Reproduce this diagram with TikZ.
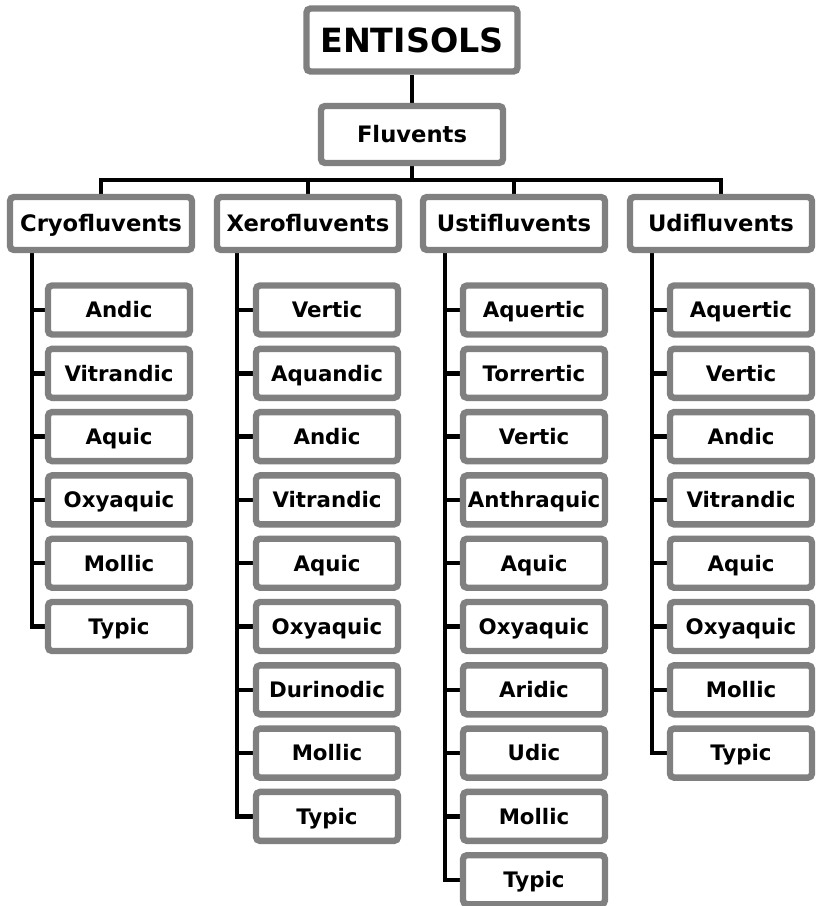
\documentclass[tikz,border=0pt]{standalone}
\usepackage{fontspec}
\setmainfont{DejaVu Sans}
\usetikzlibrary{backgrounds}
\definecolor{boxgray}{RGB}{128,128,128}
\begin{document}
\begin{tikzpicture}[x=0.75pt,y=-0.75pt,
  font=\bfseries\fontsize{16}{19}\selectfont,
  box/.style={draw=boxgray,line width=4.8pt,fill=white,rounded corners=3pt,
    inner sep=0pt,minimum width=106.5pt,minimum height=36.75pt,
    text height=11.7pt,text depth=0pt},
  subbox/.style={box,minimum width=136.5pt,minimum height=39.75pt,
    font=\bfseries\fontsize{17}{20}\selectfont,text height=12.4pt},
  link/.style={line width=3.3pt}]
\useasboundingbox (0,0) rectangle (815,906);

% Order
\node[box,minimum width=158.25pt,minimum height=47.25pt,
  font=\bfseries\fontsize{25}{29}\selectfont,
  text height=18.2pt] (ent) at (412,40) {ENTISOLS};

% Suborder
\node[subbox,minimum height=42.75pt] (fluv) at (412,134.5) {Fluvents};

% Great groups
\node[subbox] (cryo) at (101,223.5) {Cryofluvents};
\node[subbox] (xero) at (308,223.5) {Xerofluvents};
\node[subbox] (usti) at (514,223.5) {Ustifluvents};
\node[subbox] (udi) at (721,223.5) {Udifluvents};

% Cryofluvents subgroups
\node[box] (cr1) at (119,310) {Andic};
\node[box] (cr2) at (119,373.3) {Vitrandic};
\node[box] (cr3) at (119,436.6) {Aquic};
\node[box] (cr4) at (119,499.9) {Oxyaquic};
\node[box] (cr5) at (119,563.2) {Mollic};
\node[box] (cr6) at (119,626.5) {Typic};

% Xerofluvents subgroups
\node[box] (xe1) at (327,310) {Vertic};
\node[box] (xe2) at (327,373.3) {Aquandic};
\node[box] (xe3) at (327,436.6) {Andic};
\node[box] (xe4) at (327,499.9) {Vitrandic};
\node[box] (xe5) at (327,563.2) {Aquic};
\node[box] (xe6) at (327,626.5) {Oxyaquic};
\node[box] (xe7) at (327,689.8) {Durinodic};
\node[box] (xe8) at (327,753.1) {Mollic};
\node[box] (xe9) at (327,816.4) {Typic};

% Ustifluvents subgroups
\node[box] (us1) at (534,310) {Aquertic};
\node[box] (us2) at (534,373.3) {Torrertic};
\node[box] (us3) at (534,436.6) {Vertic};
\node[box] (us4) at (534,499.9) {Anthraquic};
\node[box] (us5) at (534,563.2) {Aquic};
\node[box] (us6) at (534,626.5) {Oxyaquic};
\node[box] (us7) at (534,689.8) {Aridic};
\node[box] (us8) at (534,753.1) {Udic};
\node[box] (us9) at (534,816.4) {Mollic};
\node[box] (us10) at (534,879.7) {Typic};

% Udifluvents subgroups
\node[box] (ud1) at (741,310) {Aquertic};
\node[box] (ud2) at (741,373.3) {Vertic};
\node[box] (ud3) at (741,436.6) {Andic};
\node[box] (ud4) at (741,499.9) {Vitrandic};
\node[box] (ud5) at (741,563.2) {Aquic};
\node[box] (ud6) at (741,626.5) {Oxyaquic};
\node[box] (ud7) at (741,689.8) {Mollic};
\node[box] (ud8) at (741,753.1) {Typic};

% Trunks below the great groups
\coordinate (bus) at (412,180);
\coordinate (crT) at (32,250);
\coordinate (xeT) at (237,250);
\coordinate (usT) at (445,250);
\coordinate (udT) at (652,250);

\begin{scope}[on background layer]
\draw[link] (ent) -- (fluv);
\draw[link] (fluv) -- (bus);
\draw[link] (cryo.center) |- (bus) -| (udi.center);
\draw[link] (xero.center) |- (bus);
\draw[link] (usti.center) |- (bus);

\draw[link] (crT) |- (cr1.center);
\draw[link] (crT) |- (cr2.center);
\draw[link] (crT) |- (cr3.center);
\draw[link] (crT) |- (cr4.center);
\draw[link] (crT) |- (cr5.center);
\draw[link] (crT) |- (cr6.center);

\draw[link] (xeT) |- (xe1.center);
\draw[link] (xeT) |- (xe2.center);
\draw[link] (xeT) |- (xe3.center);
\draw[link] (xeT) |- (xe4.center);
\draw[link] (xeT) |- (xe5.center);
\draw[link] (xeT) |- (xe6.center);
\draw[link] (xeT) |- (xe7.center);
\draw[link] (xeT) |- (xe8.center);
\draw[link] (xeT) |- (xe9.center);

\draw[link] (usT) |- (us1.center);
\draw[link] (usT) |- (us2.center);
\draw[link] (usT) |- (us3.center);
\draw[link] (usT) |- (us4.center);
\draw[link] (usT) |- (us5.center);
\draw[link] (usT) |- (us6.center);
\draw[link] (usT) |- (us7.center);
\draw[link] (usT) |- (us8.center);
\draw[link] (usT) |- (us9.center);
\draw[link] (usT) |- (us10.center);

\draw[link] (udT) |- (ud1.center);
\draw[link] (udT) |- (ud2.center);
\draw[link] (udT) |- (ud3.center);
\draw[link] (udT) |- (ud4.center);
\draw[link] (udT) |- (ud5.center);
\draw[link] (udT) |- (ud6.center);
\draw[link] (udT) |- (ud7.center);
\draw[link] (udT) |- (ud8.center);
\end{scope}
\end{tikzpicture}
\end{document}
